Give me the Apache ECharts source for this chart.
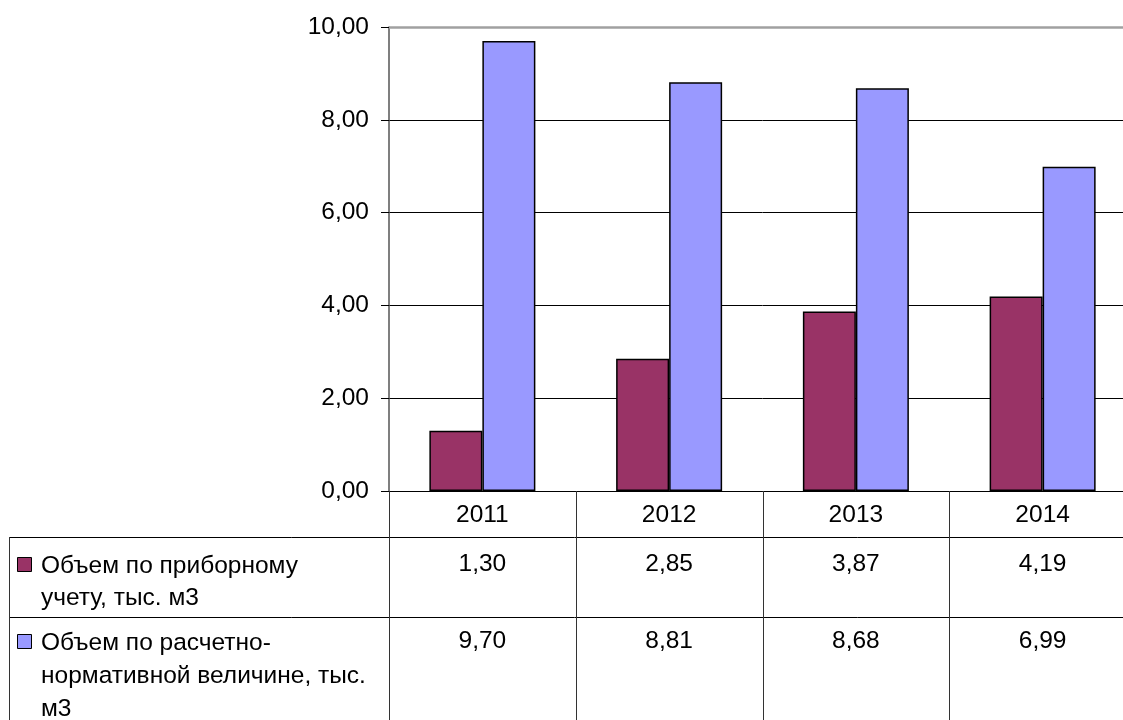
<!DOCTYPE html>
<html>
<head>
<meta charset="utf-8">
<script src="https://cdn.jsdelivr.net/npm/echarts@6/dist/echarts.min.js"></script>
<style>
  html, body { margin: 0; padding: 0; background: #fff; overflow: hidden; width: 1123px; height: 720px; }
  #chart { width: 1140px; height: 720px; }
</style>
</head>
<body>
<div id="chart"></div>
<script>
// ---- data ----
const categories = ['2011', '2012', '2013', '2014'];
const meteredValues = [1.30, 2.85, 3.87, 4.19];
const normativeValues = [9.70, 8.81, 8.68, 6.99];
const seriesNames = [
  'Объем по приборному учету, тыс. м3',
  'Объем по расчетно-нормативной величине, тыс. м3'
];
const seriesNameLines = [
  ['Объем по приборному', 'учету, тыс. м3'],
  ['Объем по расчетно-', 'нормативной величине, тыс.', 'м3']
];
const yMin = 0, yMax = 10, yStep = 2;
const colors = ['#993366', '#9999FF'];

const FONT = '"Liberation Sans", Arial, sans-serif';
const FS = 24.5;
const fmt = v => v.toFixed(2).replace('.', ',');

const chart = echarts.init(document.getElementById('chart'), null, { renderer: 'canvas' });

const option = {
  animation: false,
  backgroundColor: '#ffffff',
  grid: { left: 389, top: 27, width: 747, height: 464, containLabel: false },
  xAxis: {
    type: 'category',
    data: categories,
    axisLine: { show: true, lineStyle: { color: '#000', width: 1 } },
    axisTick: { show: false },
    axisLabel: { show: true, color: '#000', fontFamily: FONT, fontSize: FS, margin: 12 },
    splitLine: { show: false }
  },
  yAxis: {
    type: 'value',
    min: yMin, max: yMax, interval: yStep,
    axisLine: { show: true, lineStyle: { color: '#555', width: 1.5 } },
    axisTick: { show: true, inside: false, length: 8, lineStyle: { color: '#000', width: 1 } },
    axisLabel: { color: '#000', fontFamily: FONT, fontSize: FS, margin: 20, formatter: v => fmt(v) },
    splitLine: { show: true, lineStyle: { color: '#000', width: 1 } }
  },
  series: [
    {
      name: seriesNames[0], type: 'bar', data: meteredValues,
      barWidth: 53, barGap: '0%',
      itemStyle: { color: colors[0], borderColor: '#000', borderWidth: 1.5 },
      markLine: {
        silent: true, symbol: 'none', label: { show: false },
        lineStyle: { color: '#a0a0a0', width: 2.5, type: 'solid' },
        data: [{ yAxis: yMax }]
      },
      z: 3
    },
    {
      name: seriesNames[1], type: 'bar', data: normativeValues,
      barWidth: 53, barGap: '0%',
      itemStyle: { color: colors[1], borderColor: '#000', borderWidth: 1.5 },
      z: 3
    }
  ]
};
chart.setOption(option);

// ---- data table drawn below the plot ----
const c0 = chart.convertToPixel({ xAxisIndex: 0 }, categories[0]);
const c1 = chart.convertToPixel({ xAxisIndex: 0 }, categories[1]);
const band = c1 - c0;
const axisY = chart.convertToPixel({ yAxisIndex: 0 }, yMin);
const plotLeft = c0 - band / 2;
const tableLeft = 9;
const W = 1140, H = 720;
const rowTops = [axisY + 46, axisY + 126];

const g = [];
const line = (x1, y1, x2, y2, color, w) => g.push({
  type: 'line', silent: true, z: 10,
  shape: { x1, y1, x2, y2 },
  style: { stroke: color, lineWidth: w }
});
const text = (x, y, s, align) => g.push({
  type: 'text', silent: true, z: 11, x, y,
  style: { text: s, fill: '#000', font: FS + 'px ' + FONT, align: align, verticalAlign: 'middle' }
});

// horizontal table lines
rowTops.forEach(y => line(tableLeft, Math.round(y) + 0.5, W, Math.round(y) + 0.5, '#000', 1));
// vertical lines
line(tableLeft + 0.5, rowTops[0], tableLeft + 0.5, H, '#333', 1);
for (let i = 0; i < categories.length; i++) {
  const x = Math.round(plotLeft + band * i) + 0.5;
  line(x, axisY, x, H, '#333', 1);
}
// values and legend keys
const valueSets = [meteredValues, normativeValues];
const firstLineY = [566, 643];
const lineGap = [32, 33];
valueSets.forEach((vals, s) => {
  vals.forEach((v, i) => {
    const cx = chart.convertToPixel({ xAxisIndex: 0 }, categories[i]);
    text(cx, firstLineY[s] - 2, fmt(v), 'center');
  });
  g.push({
    type: 'rect', silent: true, z: 11,
    shape: { x: 17.5, y: firstLineY[s] - 8.5, width: 14, height: 14 },
    style: { fill: colors[s], stroke: '#000', lineWidth: 1 }
  });
  seriesNameLines[s].forEach((t, k) => text(41, firstLineY[s] + k * lineGap[s], t, 'left'));
});

chart.setOption({ graphic: g });
</script>
</body>
</html>
